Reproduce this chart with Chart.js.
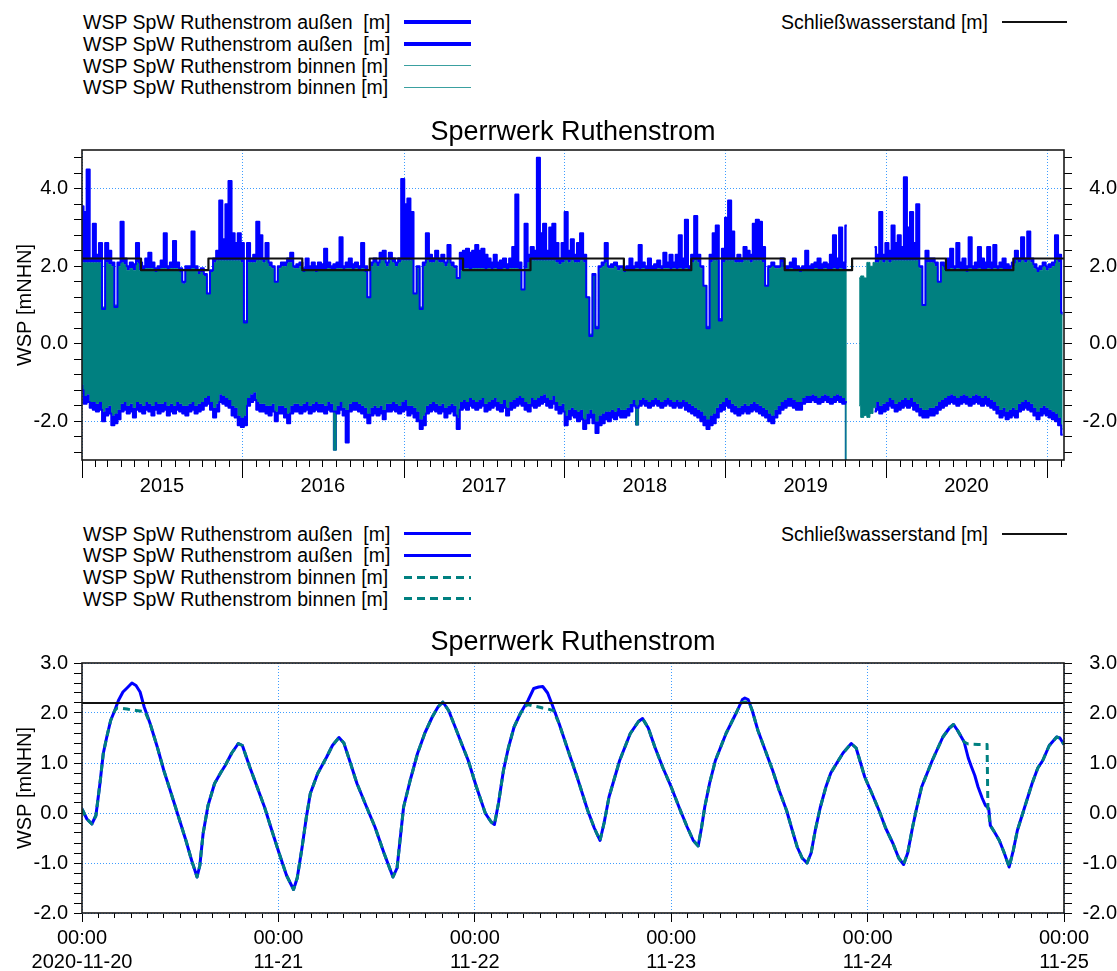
<!DOCTYPE html>
<html>
<head>
<meta charset="utf-8">
<title>Sperrwerk Ruthenstrom</title>
<script src="https://cdn.jsdelivr.net/npm/chart.js"></script>
<style>
  body { margin: 0; background: #fff; width: 1117px; height: 971px; position: relative; overflow: hidden;
         font-family: 'Liberation Sans', Arial, sans-serif; color: #000; }
  .lg { position: absolute; font-size: 19.5px; line-height: 22px; white-space: pre; }
  .sw { position: absolute; }
  canvas { position: absolute; left: 0; }
</style>
</head>
<body>
<!-- legend of the overview chart -->
<div class="lg" style="left:83px;top:11px">WSP SpW Ruthenstrom außen  [m]</div>
<div class="lg" style="left:83px;top:32.7px">WSP SpW Ruthenstrom außen  [m]</div>
<div class="lg" style="left:83px;top:54.5px">WSP SpW Ruthenstrom binnen [m]</div>
<div class="lg" style="left:83px;top:76.3px">WSP SpW Ruthenstrom binnen [m]</div>
<div class="sw" style="left:404px;top:20px;width:67px;height:4px;background:#0000ff"></div>
<div class="sw" style="left:404px;top:41.5px;width:67px;height:4px;background:#0000ff"></div>
<div class="sw" style="left:404px;top:65px;width:67px;height:1px;background:#3aa0a0"></div>
<div class="sw" style="left:404px;top:87px;width:67px;height:1px;background:#3aa0a0"></div>
<div class="lg" style="left:781px;top:11px">Schließwasserstand [m]</div>
<div class="sw" style="left:1002px;top:21px;width:65px;height:2px;background:#111"></div>

<!-- legend of the 5-day chart -->
<div class="lg" style="left:83px;top:522.5px">WSP SpW Ruthenstrom außen  [m]</div>
<div class="lg" style="left:83px;top:544.3px">WSP SpW Ruthenstrom außen  [m]</div>
<div class="lg" style="left:83px;top:566.1px">WSP SpW Ruthenstrom binnen [m]</div>
<div class="lg" style="left:83px;top:587.9px">WSP SpW Ruthenstrom binnen [m]</div>
<div class="sw" style="left:404px;top:532px;width:67px;height:3px;background:#0000ff"></div>
<div class="sw" style="left:404px;top:553.8px;width:67px;height:3px;background:#0000ff"></div>
<div class="sw" style="left:404px;top:575.6px;width:67px;height:3px;background:repeating-linear-gradient(to right,#008080 0 8px,transparent 8px 13px)"></div>
<div class="sw" style="left:404px;top:597.4px;width:67px;height:3px;background:repeating-linear-gradient(to right,#008080 0 8px,transparent 8px 13px)"></div>
<div class="lg" style="left:781px;top:522.5px">Schließwasserstand [m]</div>
<div class="sw" style="left:1002px;top:532.5px;width:65px;height:2px;background:#111"></div>

<canvas id="overview" width="1117" height="410" style="top:100px"></canvas>
<canvas id="detail" width="1117" height="356" style="top:615px"></canvas>

<script>
// ---------- overview: weekly high / low water levels ----------
const overviewStart = '2015-01-01';
const overviewEnd = '2021-02-07';
const sampleStepDays = 7;
const yearLabels = ['2015', '2016', '2017', '2018', '2019', '2020'];

const aussenHigh = [
  3.55, 3.4, 4.5, 2.2, 3.1, 2.3, 2.6, 0.9, 2.6, 2.4,
  2.1, 0.95, 2.1, 3.15, 2.2, 2.0, 2.1, 2.05, 2.6, 2.1,
  2.0, 2.2, 2.35, 2.1, 1.95, 2.0, 2.15, 2.85, 2.0, 2.1,
  2.65, 2.1, 1.95, 1.6, 2.0, 2.0, 2.9, 2.0, 1.9, 1.95,
  1.8, 1.3, 1.9, 2.2, 2.4, 3.7, 2.7, 3.6, 4.2, 2.85,
  2.6, 2.85, 2.6, 0.55, 2.6, 2.2, 2.3, 3.15, 2.8, 2.2,
  2.6, 2.1, 2.0, 1.6, 2.0, 2.1, 2.1, 2.2, 2.35, 2.0,
  2.05, 2.1, 1.95, 2.2, 2.0, 2.1, 2.0, 2.1, 2.05, 2.45,
  2.1, 2.0, 2.05, 2.1, 2.75, 2.0, 2.1, 2.2, 2.05, 2.1,
  2.0, 2.6, 2.0, 1.2, 2.1, 2.2, 2.1, 2.35, 2.4, 2.1,
  2.35, 2.2, 2.1, 2.2, 4.25, 3.6, 3.75, 3.4, 1.3, 2.0,
  0.9, 2.1, 2.85, 2.3, 2.2, 2.4, 2.2, 2.3, 2.1, 2.55,
  2.1, 2.0, 1.7, 2.35, 2.4, 2.45, 2.35, 2.4, 2.55, 2.4,
  2.45, 2.3, 2.2, 2.1, 2.3, 2.1, 2.15, 2.2, 2.05, 2.2,
  2.5, 3.85, 2.1, 1.4, 3.1, 2.3, 2.5, 2.4, 4.8, 2.85,
  3.1, 2.4, 3.0, 3.1, 2.6, 2.2, 2.6, 3.4, 2.4, 2.7,
  2.3, 2.6, 2.85, 2.3, 1.2, 0.2, 1.8, 0.4, 2.0, 2.1,
  2.6, 2.0, 2.05, 2.1, 2.0, 2.0, 1.95, 2.0, 2.2, 2.0,
  2.1, 2.55, 2.1, 2.0, 2.2, 2.0, 2.05, 2.15, 2.0, 2.35,
  2.1, 2.3, 2.1, 2.3, 2.8, 2.2, 3.2, 2.0, 2.3, 3.3,
  2.3, 2.0, 1.5, 0.4, 2.3, 2.85, 3.05, 0.6, 2.45, 3.25,
  3.7, 2.9, 2.2, 2.3, 2.2, 2.5, 2.4, 2.3, 3.1, 3.2,
  3.15, 2.5, 1.5, 2.0, 2.1, 2.0, 2.0, 2.2, 2.0, 2.0,
  2.1, 2.2, 2.0, 1.95, 2.0, 2.4, 2.0, 2.05, 2.1, 2.2,
  2.05, 2.1, 2.05, 2.3, 2.8, 2.2, 3.0, 2.1, 3.05, null,
  null, null, null, null, null, null, null, 2.5, 2.3, 3.4,
  2.3, 2.6, 2.4, 3.05, 2.6, 2.8, 2.5, 4.3, 3.0, 3.4,
  2.6, 3.6, 2.0, 1.0, 2.4, 2.2, 2.2, 2.1, 1.6, 2.1,
  2.0, 2.2, 2.45, 2.0, 2.6, 2.1, 2.2, 2.0, 2.75, 2.0,
  2.1, 2.5, 2.2, 2.1, 2.5, 2.1, 2.55, 2.0, 2.1, 2.2,
  2.05, 2.0, 2.1, 2.4, 2.2, 2.75, 2.2, 2.9, 2.2, 2.05,
  1.95, 2.0, 2.1, 2.0, 2.05, 2.1, 2.8, 2.3, 0.8
];

const aussenLow = [
  -1.2, -1.55, -1.5, -1.65, -1.7, -1.75, -1.7, -2.0, -1.85, -1.8,
  -2.1, -2.05, -1.95, -1.75, -1.7, -1.8, -1.75, -1.9, -1.7, -1.75,
  -1.8, -1.7, -1.75, -1.85, -1.7, -1.8, -1.75, -1.7, -1.85, -1.75,
  -1.8, -1.7, -1.75, -1.8, -1.85, -1.75, -1.7, -1.8, -1.75, -1.7,
  -1.6, -1.55, -1.7, -1.9, -1.75, -1.5, -1.55, -1.6, -1.65, -1.85,
  -1.9, -2.1, -2.15, -2.1, -1.6, -1.5, -1.45, -1.7, -1.75, -1.75,
  -1.8, -1.85, -1.75, -2.0, -1.8, -1.8, -1.9, -2.05, -1.8, -1.75,
  -1.75, -1.8, -1.75, -1.7, -1.8, -1.75, -1.7, -1.75, -1.75, -1.8,
  -1.7, -1.75, -1.75, -1.8, -1.7, -1.85, -2.55, -1.75, -1.7, -1.7,
  -1.75, -1.8, -1.9, -2.05, -1.85, -1.8, -1.85, -1.8, -1.95, -1.75,
  -1.75, -1.7, -1.75, -1.8, -1.75, -1.7, -1.85, -1.8, -1.9, -2.0,
  -2.2, -2.1, -1.8, -1.75, -1.7, -1.75, -1.8, -1.75, -1.9, -1.8,
  -1.75, -1.85, -2.2, -1.7, -1.65, -1.7, -1.6, -1.65, -1.7, -1.65,
  -1.6, -1.75, -1.7, -1.65, -1.6, -1.7, -1.75, -1.65, -1.85, -1.7,
  -1.65, -1.6, -1.55, -1.6, -1.7, -1.75, -1.6, -1.65, -1.6, -1.55,
  -1.5, -1.6, -1.65, -1.55, -1.7, -1.8, -1.75, -2.1, -1.95, -1.85,
  -1.9, -2.0, -1.95, -2.2, -2.05, -1.9, -2.05, -2.3, -2.1, -2.05,
  -1.95, -2.0, -1.9, -1.95, -1.85, -1.9, -1.9, -1.85, -1.75, -1.6,
  -1.65, -1.6, -1.55, -1.6, -1.65, -1.6, -1.55, -1.6, -1.65, -1.6,
  -1.55, -1.6, -1.65, -1.6, -1.65, -1.6, -1.7, -1.75, -1.8, -1.85,
  -1.9, -2.0, -2.1, -2.2, -2.1, -2.05, -1.9, -1.75, -1.7, -1.6,
  -1.65, -1.75, -1.8, -1.85, -1.8, -1.75, -1.8, -1.75, -1.7, -1.75,
  -1.8, -1.85, -1.9, -2.0, -2.05, -1.9, -1.8, -1.7, -1.65, -1.6,
  -1.6, -1.65, -1.7, -1.7, -1.55, -1.5, -1.5, -1.45, -1.5, -1.55,
  -1.5, -1.45, -1.5, -1.55, -1.5, -1.45, -1.5, -1.55, -1.5, null,
  null, null, null, null, null, null, null, -1.75, -1.7, -1.8,
  -1.75, -1.7, -1.6, -1.65, -1.75, -1.7, -1.65, -1.6, -1.65, -1.6,
  -1.7, -1.75, -1.85, -1.9, -1.9, -1.85, -1.85, -1.8, -1.7, -1.65,
  -1.6, -1.55, -1.5, -1.55, -1.6, -1.55, -1.5, -1.55, -1.6, -1.55,
  -1.5, -1.55, -1.6, -1.55, -1.6, -1.65, -1.7, -1.8, -1.9, -1.85,
  -1.95, -1.9, -1.85, -1.9, -1.75, -1.7, -1.65, -1.7, -1.75, -1.85,
  -1.95, -1.85, -1.8, -1.85, -1.9, -1.95, -2.0, -2.1, -2.35
];

const binnenHigh = [
  2.1, 2.1, 2.1, 2.1, 2.1, 2.1, 2.1, 0.95, 2.1, 2.05,
  2.0, 1.0, 2.0, 2.1, 2.05, 1.9, 1.95, 1.9, 2.1, 1.9,
  1.9, 1.95, 1.95, 1.95, 1.85, 1.9, 1.95, 1.95, 1.9, 1.95,
  1.95, 1.95, 1.85, 1.55, 1.9, 1.9, 1.95, 1.9, 1.8, 1.85,
  1.75, 1.3, 1.85, 2.1, 2.15, 2.15, 2.15, 2.15, 2.15, 2.15,
  2.15, 2.15, 2.1, 0.6, 2.1, 2.1, 2.1, 2.15, 2.15, 2.1,
  2.15, 2.0, 1.95, 1.6, 1.95, 2.0, 2.0, 2.1, 2.1, 1.95,
  1.95, 2.0, 1.85, 1.9, 1.9, 1.9, 1.85, 1.9, 1.9, 1.9,
  1.95, 1.9, 1.9, 1.95, 1.95, 1.9, 1.95, 1.95, 1.9, 1.95,
  1.9, 1.95, 1.85, 1.2, 2.0, 2.1, 2.0, 2.15, 2.15, 2.0,
  2.15, 2.1, 2.0, 2.1, 2.15, 2.15, 2.15, 2.15, 1.3, 1.95,
  0.95, 2.0, 2.15, 2.1, 2.1, 2.15, 2.1, 2.1, 2.0, 2.15,
  2.0, 1.95, 1.7, 1.9, 1.95, 1.95, 1.9, 1.95, 1.95, 1.95,
  1.95, 1.9, 1.95, 1.9, 1.95, 1.9, 1.9, 1.95, 1.9, 1.95,
  1.95, 1.95, 1.9, 1.4, 1.95, 2.1, 2.15, 2.15, 2.15, 2.15,
  2.15, 2.15, 2.15, 2.15, 2.1, 2.05, 2.1, 2.15, 2.1, 2.15,
  2.1, 2.1, 2.15, 2.1, 1.2, 0.25, 1.75, 0.45, 1.95, 2.0,
  2.1, 1.95, 1.95, 2.0, 1.9, 1.95, 1.85, 1.9, 1.9, 1.9,
  1.95, 1.9, 1.95, 1.9, 1.9, 1.9, 1.9, 1.95, 1.9, 1.95,
  1.95, 1.9, 1.95, 1.9, 1.95, 1.9, 1.95, 1.9, 2.1, 2.15,
  2.1, 1.95, 1.5, 0.45, 2.1, 2.15, 2.15, 0.65, 2.1, 2.15,
  2.15, 2.15, 2.1, 2.1, 2.1, 2.15, 2.15, 2.1, 2.15, 2.15,
  2.15, 2.1, 1.5, 1.95, 2.0, 1.95, 1.95, 2.1, 1.9, 1.9,
  1.95, 1.9, 1.9, 1.85, 1.9, 1.9, 1.9, 1.9, 1.95, 1.9,
  1.9, 1.95, 1.9, 1.9, 1.95, 1.9, 1.95, 1.9, 1.9, null,
  null, null, 1.7, 1.75, 1.7, 2.1, 2.0, 2.1, 2.1, 2.15,
  2.1, 2.15, 2.1, 2.15, 2.15, 2.15, 2.15, 2.15, 2.15, 2.15,
  2.15, 2.15, 1.95, 1.0, 2.1, 2.1, 2.1, 2.0, 1.6, 2.0,
  1.9, 1.9, 1.95, 1.9, 1.95, 1.9, 1.9, 1.85, 1.95, 1.9,
  1.9, 1.95, 1.9, 1.9, 1.95, 1.9, 1.95, 1.9, 1.95, 1.9,
  1.9, 1.9, 2.0, 2.15, 2.1, 2.15, 2.1, 2.15, 2.1, 1.95,
  1.85, 1.9, 2.0, 1.9, 1.95, 2.0, 2.15, 2.1, 0.75
];

const binnenLow = [
  -1.05, -1.35, -1.3, -1.5, -1.5, -1.55, -1.5, -1.75, -1.65, -1.6,
  -1.85, -1.8, -1.7, -1.55, -1.5, -1.6, -1.55, -1.65, -1.5, -1.55,
  -1.6, -1.5, -1.55, -1.6, -1.5, -1.55, -1.55, -1.5, -1.6, -1.55,
  -1.6, -1.5, -1.55, -1.6, -1.6, -1.55, -1.5, -1.6, -1.55, -1.5,
  -1.4, -1.35, -1.5, -1.65, -1.55, -1.3, -1.35, -1.4, -1.45, -1.6,
  -1.65, -1.85, -1.9, -1.85, -1.4, -1.3, -1.25, -1.5, -1.55, -1.55,
  -1.6, -1.6, -1.55, -1.75, -1.6, -1.6, -1.65, -1.8, -1.6, -1.55,
  -1.55, -1.6, -1.55, -1.5, -1.6, -1.55, -1.5, -1.55, -1.55, -1.6,
  -1.5, -1.55, -2.75, -1.6, -1.5, -1.65, -1.7, -1.55, -1.5, -1.5,
  -1.55, -1.6, -1.65, -1.8, -1.65, -1.6, -1.65, -1.6, -1.7, -1.55,
  -1.55, -1.5, -1.55, -1.6, -1.5, -1.45, -1.6, -1.6, -1.65, -1.75,
  -1.95, -1.85, -1.6, -1.55, -1.5, -1.55, -1.6, -1.55, -1.65, -1.6,
  -1.55, -1.6, -1.9, -1.5, -1.45, -1.5, -1.4, -1.45, -1.5, -1.45,
  -1.4, -1.55, -1.5, -1.45, -1.4, -1.5, -1.55, -1.45, -1.65, -1.5,
  -1.45, -1.4, -1.35, -1.4, -1.5, -1.55, -1.4, -1.45, -1.4, -1.35,
  -1.3, -1.4, -1.45, -1.35, -1.5, -1.6, -1.55, -1.85, -1.7, -1.65,
  -1.7, -1.75, -1.7, -1.95, -1.8, -1.7, -1.8, -2.0, -1.85, -1.8,
  -1.75, -1.75, -1.7, -1.75, -1.65, -1.7, -1.7, -1.65, -1.55, -1.45,
  -2.1, -1.45, -1.4, -1.45, -1.5, -1.45, -1.4, -1.45, -1.5, -1.45,
  -1.4, -1.45, -1.5, -1.45, -1.5, -1.45, -1.5, -1.55, -1.6, -1.65,
  -1.7, -1.75, -1.85, -1.95, -1.85, -1.8, -1.65, -1.55, -1.5, -1.4,
  -1.45, -1.55, -1.6, -1.65, -1.6, -1.55, -1.6, -1.55, -1.5, -1.55,
  -1.6, -1.65, -1.7, -1.8, -1.85, -1.7, -1.6, -1.5, -1.45, -1.4,
  -1.4, -1.45, -1.5, -1.5, -1.4, -1.35, -1.35, -1.3, -1.35, -1.4,
  -1.35, -1.3, -1.35, -1.4, -1.35, -1.3, -1.35, -1.4, -3.0, null,
  null, null, -1.6, -1.9, -1.85, -1.9, -1.8, -1.65, -1.5, -1.6,
  -1.55, -1.5, -1.4, -1.45, -1.55, -1.5, -1.45, -1.4, -1.45, -1.4,
  -1.5, -1.55, -1.65, -1.7, -1.7, -1.65, -1.65, -1.6, -1.5, -1.45,
  -1.4, -1.35, -1.3, -1.35, -1.4, -1.35, -1.3, -1.35, -1.4, -1.35,
  -1.3, -1.35, -1.4, -1.35, -1.4, -1.45, -1.5, -1.6, -1.7, -1.65,
  -1.75, -1.7, -1.65, -1.7, -1.55, -1.5, -1.45, -1.5, -1.55, -1.65,
  -1.75, -1.65, -1.6, -1.65, -1.7, -1.75, -1.8, -1.9, -2.2
];

// closing level of the barrier (summer / winter setting)
const closingDates = ['2015-01-01', '2015-05-15', '2015-10-15', '2016-05-15', '2016-10-15',
  '2017-05-15', '2017-10-15', '2018-05-15', '2018-10-15', '2019-05-15', '2019-10-15',
  '2020-05-15', '2020-10-15', '2021-02-07'];
const closingLevels = [2.2, 1.9, 2.2, 1.9, 2.2, 1.9, 2.2, 1.9, 2.2, 1.9, 2.2, 1.9, 2.2, 2.2];

// ---------- detail: 2020-11-20 .. 2020-11-25, hours since start ----------
const detailDays = ['2020-11-20', '11-21', '11-22', '11-23', '11-24', '11-25'];
const aussenHours = [
  0, 0.6, 1.2, 1.7, 2.2, 2.6, 3.0, 3.5, 4.0, 4.45,
  5.0, 5.5, 6.1, 6.6, 7.1, 7.6, 8.3, 9.2, 10.0, 10.9,
  11.8, 12.7, 13.4, 14.06, 14.4, 14.8, 15.4, 16.2, 17.0, 17.5,
  18.3, 19.1, 19.6, 20.5, 21.4, 22.3, 23.2, 24.1, 25.0, 25.85,
  26.3, 26.9, 27.4, 27.9, 28.8, 29.9, 30.6, 31.4, 32.0, 32.8,
  33.6, 34.7, 35.8, 36.9, 38.0, 38.5, 39.3, 40.1, 41.0, 41.9,
  42.8, 43.5, 44.1, 44.8, 45.6, 46.4, 47.2, 48.2, 49.3, 50.0,
  50.4, 50.9, 51.5, 52.1, 52.8, 53.6, 54.5, 55.2, 55.8, 56.3,
  56.9, 57.4, 58.3, 59.4, 60.5, 61.8, 62.6, 63.3, 63.8, 64.4,
  65.7, 67.0, 68.0, 68.5, 69.2, 70.0, 71.0, 72.0, 73.0, 73.95,
  74.7, 75.3, 75.7, 76.1, 76.7, 77.4, 78.7, 80.0, 80.7, 81.0,
  81.4, 81.9, 82.6, 83.5, 84.4, 85.2, 86.1, 86.8, 87.4, 88.0,
  88.6, 89.1, 89.6, 90.2, 90.9, 91.5, 92.2, 93.0, 94.0, 94.6,
  95.65, 96.5, 97.4, 98.2, 99.1, 99.8, 100.4, 100.9, 101.5, 102.0,
  102.6, 103.9, 105.2, 106.0, 106.5, 107.0, 107.8, 108.3, 108.7, 109.1,
  109.5, 110.0, 110.4, 110.8, 111.0, 111.5, 112.1, 112.7, 113.3, 113.8,
  114.3, 115.2, 116.1, 116.8, 117.4, 118.2, 119.1, 119.5, 120
];
const aussenLevel = [
  0.08, -0.12, -0.22, -0.05, 0.6, 1.19, 1.5, 1.85, 2.05, 2.25,
  2.42, 2.5, 2.6, 2.55, 2.42, 2.12, 1.8, 1.32, 0.85, 0.39,
  -0.08, -0.55, -0.95, -1.28, -1.05, -0.41, 0.15, 0.59, 0.82, 0.95,
  1.2, 1.39, 1.35, 0.92, 0.52, 0.12, -0.35, -0.81, -1.25, -1.53,
  -1.3, -0.68, -0.1, 0.39, 0.79, 1.12, 1.35, 1.51, 1.4, 1.0,
  0.59, 0.15, -0.28, -0.8, -1.28, -1.1, 0.12, 0.65, 1.19, 1.6,
  1.92, 2.12, 2.22, 2.05, 1.72, 1.38, 1.05, 0.52, -0.01, -0.18,
  -0.23, 0.2, 0.85, 1.3, 1.72, 2.0, 2.25, 2.49, 2.52, 2.53,
  2.4, 2.19, 1.79, 1.25, 0.72, 0.05, -0.3, -0.55, -0.2, 0.32,
  1.05, 1.59, 1.83, 1.89, 1.7, 1.32, 0.9, 0.52, 0.1, -0.28,
  -0.55, -0.66, -0.3, 0.12, 0.6, 1.05, 1.59, 2.02, 2.27, 2.3,
  2.27, 2.05, 1.65, 1.25, 0.85, 0.45, 0.05, -0.35, -0.68, -0.9,
  -1.0, -0.8, -0.35, 0.1, 0.52, 0.8, 0.99, 1.2, 1.39, 1.3,
  0.72, 0.4, 0.05, -0.3, -0.61, -0.9, -1.03, -0.8, -0.28, 0.1,
  0.52, 1.05, 1.52, 1.7, 1.77, 1.65, 1.42, 1.1, 0.92, 0.75,
  0.52, 0.3, 0.15, 0.09, -0.25, -0.38, -0.55, -0.8, -1.08, -0.75,
  -0.35, 0.12, 0.59, 0.9, 1.05, 1.35, 1.52, 1.5, 1.37
];
const binnenHours = [
  0, 0.6, 1.2, 1.7, 2.2, 2.6, 3.0, 3.5, 4.0, 4.3,
  5.0, 5.5, 6.1, 6.6, 7.1, 7.7, 8.3, 9.2, 10.0, 10.9,
  11.8, 12.7, 13.4, 14.06, 14.4, 14.8, 15.4, 16.2, 17.0, 17.5,
  18.3, 19.1, 19.6, 20.5, 21.4, 22.3, 23.2, 24.1, 25.0, 25.85,
  26.3, 26.9, 27.4, 27.9, 28.8, 29.9, 30.6, 31.4, 32.0, 32.8,
  33.6, 34.7, 35.8, 36.9, 38.0, 38.5, 39.3, 40.1, 41.0, 41.9,
  42.8, 43.5, 44.1, 44.8, 45.6, 46.4, 47.2, 48.2, 49.3, 50.0,
  50.4, 50.9, 51.5, 52.1, 52.8, 53.6, 54.4, 55.2, 55.8, 56.3,
  56.9, 57.6, 58.3, 59.4, 60.5, 61.8, 62.6, 63.3, 63.8, 64.4,
  65.7, 67.0, 68.0, 68.5, 69.2, 70.0, 71.0, 72.0, 73.0, 73.95,
  74.7, 75.3, 75.7, 76.1, 76.7, 77.4, 78.7, 80.0, 80.5, 81.0,
  81.5, 81.9, 82.6, 83.5, 84.4, 85.2, 86.1, 86.8, 87.4, 88.0,
  88.6, 89.1, 89.6, 90.2, 90.9, 91.5, 92.2, 93.0, 94.0, 94.6,
  95.65, 96.5, 97.4, 98.2, 99.1, 99.8, 100.4, 100.9, 101.5, 102.0,
  102.6, 103.9, 105.2, 106.0, 106.5, 107.0, 107.8, 108.3, 109.5, 110.6,
  110.7, 111.0, 111.5, 112.1, 112.7, 113.3, 113.8, 114.3, 115.2, 116.1,
  116.8, 117.4, 118.2, 119.1, 119.5, 120
];
const binnenLevel = [
  0.08, -0.12, -0.22, -0.05, 0.6, 1.19, 1.5, 1.85, 2.05, 2.1,
  2.09, 2.08, 2.06, 2.05, 2.04, 2.03, 1.8, 1.32, 0.85, 0.39,
  -0.08, -0.55, -0.95, -1.28, -1.05, -0.41, 0.15, 0.59, 0.82, 0.95,
  1.2, 1.39, 1.35, 0.92, 0.52, 0.12, -0.35, -0.81, -1.25, -1.53,
  -1.3, -0.68, -0.1, 0.39, 0.79, 1.12, 1.35, 1.51, 1.4, 1.0,
  0.59, 0.15, -0.28, -0.8, -1.28, -1.1, 0.12, 0.65, 1.19, 1.6,
  1.92, 2.12, 2.22, 2.05, 1.72, 1.38, 1.05, 0.52, -0.01, -0.18,
  -0.23, 0.2, 0.85, 1.3, 1.72, 2.0, 2.17, 2.14, 2.12, 2.1,
  2.08, 2.05, 1.79, 1.25, 0.72, 0.05, -0.3, -0.55, -0.2, 0.32,
  1.05, 1.59, 1.83, 1.89, 1.7, 1.32, 0.9, 0.52, 0.1, -0.28,
  -0.55, -0.66, -0.3, 0.12, 0.6, 1.05, 1.59, 2.02, 2.2, 2.22,
  2.22, 2.05, 1.65, 1.25, 0.85, 0.45, 0.05, -0.35, -0.68, -0.9,
  -1.0, -0.8, -0.35, 0.1, 0.52, 0.8, 0.99, 1.2, 1.39, 1.3,
  0.72, 0.4, 0.05, -0.3, -0.61, -0.9, -1.03, -0.8, -0.28, 0.1,
  0.52, 1.05, 1.52, 1.7, 1.77, 1.65, 1.42, 1.38, 1.37, 1.37,
  0.1, -0.25, -0.38, -0.55, -0.8, -1.08, -0.75, -0.35, 0.12, 0.59,
  0.9, 1.05, 1.35, 1.52, 1.5, 1.37
];
const detailClosingLevel = 2.2;

// ---------- styling ----------
const FONT_FAMILY = "'Liberation Sans', Arial, sans-serif";
const BLUE = '#0000ff';
const TEAL = '#008080';
const GRID_BLUE = '#3d9cff';
const NONE = 'rgba(0,0,0,0)';
const tickFont = { family: FONT_FAMILY, size: 20 };

const DAY_MS = 864e5;
const t0 = Date.UTC(2015, 0, 1);
function dayNumber(iso) {
  const [y, m, d] = iso.split('-').map(Number);
  return (Date.UTC(y, m - 1, d) - t0) / DAY_MS;
}
const overviewSpan = dayNumber(overviewEnd);

// monthly tick marks, January ticks carry the year label
const overviewTicks = [];
const yearTickLabel = new Map();
for (let y = 2015; y <= 2021; y++) {
  for (let m = 0; m < 12; m++) {
    const d = (Date.UTC(y, m, 1) - t0) / DAY_MS;
    if (d > overviewSpan) break;
    overviewTicks.push(d);
    if (m === 0) yearTickLabel.set(d, yearLabels[y - 2015] || '');
  }
}
const detailTicks = [];
for (let h = 0; h <= 120; h += 2) detailTicks.push(h);

function levelTicks(min, max, stepTenths) {
  const out = [];
  for (let k = Math.ceil(min * 10 / stepTenths) * stepTenths; k <= max * 10; k += stepTenths) out.push(k / 10);
  return out;
}

function levelAxis(side, min, max, stepTenths, labelTenths, width) {
  const ticks = levelTicks(min, max, stepTenths);
  const labelled = v => Math.round(v * 10) % labelTenths === 0;
  return {
    type: 'linear', position: side, min, max,
    afterBuildTicks: s => { s.ticks = ticks.map(v => ({ value: v })); },
    afterFit: s => { s.width = width; },
    ticks: {
      autoSkip: false, color: '#000', font: tickFont,
      padding: side === 'left' ? 6 : 8,
      crossAlign: side === 'left' ? 'near' : 'far',
      callback: v => labelled(v) ? v.toFixed(1) : ''
    },
    grid: {
      drawOnChartArea: side === 'left',
      color: c => (c.tick && labelled(c.tick.value)) ? GRID_BLUE : NONE,
      lineWidth: 1, tickLength: 8, tickColor: '#000', tickWidth: 1
    },
    border: { display: false, dash: [1, 2] },
    title: side === 'left'
      ? { display: true, text: 'WSP [mNHN]', color: '#000', font: tickFont, padding: { top: 13, bottom: 0 } }
      : { display: false }
  };
}

const framePlugin = {
  id: 'frame',
  afterDatasetsDraw(chart) {
    const { ctx, chartArea: a } = chart;
    ctx.save();
    ctx.strokeStyle = '#1a1a1a';
    ctx.lineWidth = 1.6;
    ctx.strokeRect(a.left, a.top, a.right - a.left, a.bottom - a.top);
    ctx.restore();
  }
};

function titleOptions(padTop, padBottom) {
  return {
    display: true, text: 'Sperrwerk Ruthenstrom', color: '#000', fullSize: false,
    font: { family: FONT_FAMILY, size: 27, weight: 'normal', lineHeight: 1.2 },
    padding: { top: padTop, bottom: padBottom }
  };
}

const commonOptions = {
  responsive: false, maintainAspectRatio: false, animation: false, events: [],
  layout: { padding: 0 },
  elements: {
    point: { radius: 0 },
    line: { tension: 0, borderJoinStyle: 'round', borderCapStyle: 'butt' }
  }
};

// ---------- overview chart ----------
const weekly = arr => arr.map((v, i) => ({ x: i * sampleStepDays, y: v }));
const closingPoints = closingDates.map((d, i) => ({ x: dayNumber(d), y: closingLevels[i] }));

new Chart(document.getElementById('overview'), {
  type: 'line',
  data: {
    datasets: [
      { label: 'WSP SpW Ruthenstrom außen  [m]', data: weekly(aussenHigh), borderColor: BLUE, borderWidth: 2,
        stepped: 'middle', fill: { target: 2, above: BLUE, below: NONE }, order: 1, spanGaps: false },
      { label: 'WSP SpW Ruthenstrom außen  [m]', data: weekly(aussenLow), borderColor: BLUE, borderWidth: 2,
        stepped: 'middle', fill: { target: 3, above: NONE, below: BLUE }, order: 1, spanGaps: false },
      { label: 'WSP SpW Ruthenstrom binnen [m]', data: weekly(binnenHigh), borderColor: TEAL, borderWidth: 1,
        stepped: 'middle', fill: { target: 3, above: TEAL, below: TEAL }, order: 2, spanGaps: false },
      { label: 'WSP SpW Ruthenstrom binnen [m]', data: weekly(binnenLow), borderColor: TEAL, borderWidth: 1,
        stepped: 'middle', fill: false, order: 2, spanGaps: false },
      { label: 'Schließwasserstand [m]', data: closingPoints, borderColor: '#111', borderWidth: 2.2,
        stepped: true, fill: false, order: 0 }
    ]
  },
  options: {
    ...commonOptions,
    plugins: { legend: { display: false }, tooltip: { enabled: false }, title: titleOptions(16.3, 1.3) },
    scales: {
      x: {
        type: 'linear', min: 0, max: overviewSpan,
        afterBuildTicks: s => { s.ticks = overviewTicks.map(v => ({ value: v })); },
        afterFit: s => { s.height = 50; },
        ticks: {
          autoSkip: false, maxRotation: 0, minRotation: 0, labelOffset: 80, padding: -4,
          color: '#000', font: tickFont,
          callback: v => yearTickLabel.get(v) ?? ''
        },
        grid: {
          color: c => (c.tick && yearTickLabel.has(c.tick.value)) ? GRID_BLUE : NONE,
          tickLength: 18, tickColor: '#000', tickWidth: 1,
          tickBorderDash: c => (c.tick && yearTickLabel.has(c.tick.value)) ? [] : [7, 40]
        },
        border: { display: false, dash: [1, 2] }
      },
      y: levelAxis('left', -3, 5, 4, 20, 82),
      y2: levelAxis('right', -3, 5, 4, 20, 53)
    }
  },
  plugins: [framePlugin]
});

// ---------- 5-day detail chart ----------
const pairs = (xs, ys) => xs.map((x, i) => ({ x, y: ys[i] }));

new Chart(document.getElementById('detail'), {
  type: 'line',
  data: {
    datasets: [
      { label: 'WSP SpW Ruthenstrom außen  [m]', data: pairs(aussenHours, aussenLevel),
        borderColor: BLUE, borderWidth: 3, fill: false, order: 2 },
      { label: 'WSP SpW Ruthenstrom binnen [m]', data: pairs(binnenHours, binnenLevel),
        borderColor: TEAL, borderWidth: 3, borderDash: [7, 5], fill: false, order: 1 },
      { label: 'Schließwasserstand [m]', data: [{ x: 0, y: detailClosingLevel }, { x: 120, y: detailClosingLevel }],
        borderColor: '#111', borderWidth: 2, fill: false, order: 0 }
    ]
  },
  options: {
    ...commonOptions,
    plugins: { legend: { display: false }, tooltip: { enabled: false }, title: titleOptions(11.8, 3.8) },
    scales: {
      x: {
        type: 'linear', min: 0, max: 120,
        afterBuildTicks: s => { s.ticks = detailTicks.map(v => ({ value: v })); },
        afterFit: s => { s.height = 58; },
        ticks: {
          autoSkip: false, maxRotation: 0, minRotation: 0, padding: 4, color: '#000', font: tickFont,
          callback: v => v % 24 === 0 ? ['00:00', detailDays[v / 24]] : ''
        },
        grid: {
          color: c => (c.tick && c.tick.value % 24 === 0) ? GRID_BLUE : NONE,
          tickLength: 9, tickColor: '#000', tickWidth: 1,
          tickBorderDash: c => (c.tick && c.tick.value % 24 === 0) ? [] : [5, 30]
        },
        border: { display: false, dash: [1, 2] }
      },
      y: levelAxis('left', -2, 3, 2, 10, 82),
      y2: levelAxis('right', -2, 3, 2, 10, 53)
    }
  },
  plugins: [framePlugin]
});
</script>
</body>
</html>
